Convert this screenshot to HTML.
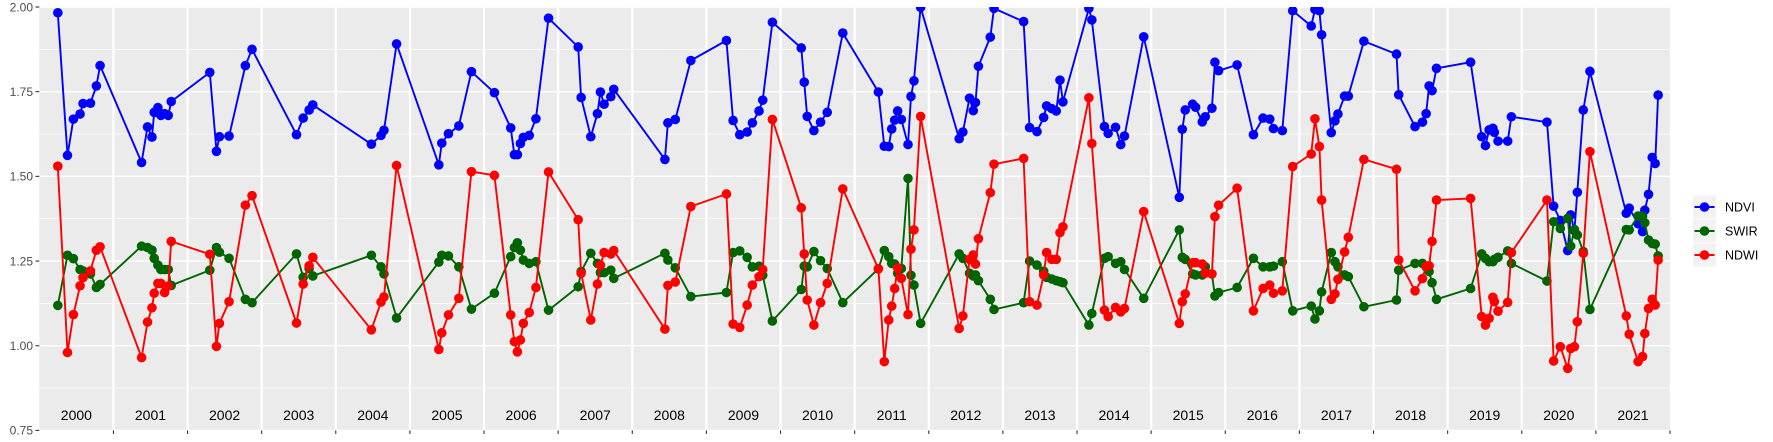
<!DOCTYPE html>
<html><head><meta charset="utf-8">
<style>
html,body{margin:0;padding:0;background:#fff;}
svg{display:block;font-family:"Liberation Sans",sans-serif;}
</style></head>
<body>
<svg id="chart" width="1773" height="442" viewBox="0 0 1773 442" xmlns="http://www.w3.org/2000/svg">
<rect x="39.3" y="7" width="1630.7" height="423.4" fill="#ebebeb"/>
<g id="grid"></g>
<g id="years"></g>
<g id="yaxis"></g>
<g id="series"></g>
<g id="legend"></g>
</svg>
<script>
const dates=[2000.25,2000.38,2000.46,2000.55,2000.59,2000.69,2000.77,2000.82,2001.38,2001.46,2001.52,2001.55,2001.60,2001.64,2001.69,2001.74,2001.78,2002.30,2002.39,2002.43,2002.56,2002.78,2002.87,2003.47,2003.56,2003.64,2003.69,2004.48,2004.61,2004.65,2004.82,2005.39,2005.43,2005.52,2005.66,2005.83,2006.14,2006.36,2006.41,2006.45,2006.49,2006.53,2006.61,2006.70,2006.87,2007.27,2007.31,2007.44,2007.53,2007.57,2007.62,2007.71,2007.75,2008.44,2008.48,2008.58,2008.79,2009.27,2009.36,2009.45,2009.55,2009.62,2009.71,2009.76,2009.89,2010.28,2010.32,2010.36,2010.45,2010.54,2010.63,2010.84,2011.32,2011.40,2011.46,2011.50,2011.54,2011.58,2011.63,2011.72,2011.76,2011.80,2011.89,2012.41,2012.46,2012.55,2012.60,2012.63,2012.67,2012.83,2012.88,2013.28,2013.36,2013.46,2013.55,2013.59,2013.66,2013.72,2013.77,2013.81,2014.16,2014.20,2014.37,2014.42,2014.52,2014.59,2014.64,2014.90,2015.38,2015.42,2015.46,2015.56,2015.60,2015.69,2015.73,2015.82,2015.86,2015.91,2016.16,2016.38,2016.51,2016.60,2016.65,2016.77,2016.91,2017.16,2017.21,2017.27,2017.30,2017.43,2017.48,2017.52,2017.61,2017.66,2017.87,2018.31,2018.34,2018.56,2018.66,2018.71,2018.75,2018.79,2018.85,2019.31,2019.46,2019.51,2019.56,2019.61,2019.63,2019.68,2019.81,2019.86,2020.34,2020.43,2020.52,2020.62,2020.66,2020.71,2020.75,2020.83,2020.92,2021.41,2021.45,2021.57,2021.63,2021.66,2021.71,2021.76,2021.80,2021.84];
const ndvi=[1.983,1.562,1.669,1.684,1.715,1.716,1.767,1.827,1.541,1.646,1.616,1.689,1.703,1.680,1.685,1.680,1.721,1.807,1.574,1.617,1.619,1.827,1.875,1.623,1.672,1.696,1.711,1.595,1.621,1.636,1.891,1.534,1.598,1.626,1.649,1.809,1.747,1.643,1.564,1.564,1.597,1.615,1.621,1.670,1.967,1.882,1.733,1.617,1.685,1.749,1.713,1.735,1.757,1.550,1.658,1.668,1.842,1.901,1.665,1.623,1.631,1.658,1.693,1.725,1.955,1.879,1.778,1.677,1.635,1.660,1.689,1.923,1.749,1.589,1.588,1.640,1.666,1.693,1.668,1.594,1.736,1.782,1.999,1.611,1.631,1.731,1.694,1.718,1.825,1.911,1.996,1.957,1.644,1.632,1.674,1.708,1.700,1.693,1.784,1.720,1.996,1.962,1.647,1.627,1.645,1.594,1.619,1.912,1.438,1.639,1.696,1.713,1.704,1.661,1.676,1.701,1.837,1.812,1.829,1.623,1.672,1.669,1.641,1.635,1.989,1.944,1.993,1.989,1.918,1.629,1.664,1.684,1.737,1.737,1.899,1.861,1.741,1.647,1.660,1.685,1.767,1.753,1.819,1.837,1.617,1.591,1.637,1.642,1.630,1.604,1.604,1.676,1.660,1.412,1.370,1.281,1.386,1.340,1.453,1.696,1.810,1.391,1.406,1.360,1.337,1.400,1.447,1.556,1.538,1.740];
const swir=[1.119,1.267,1.257,1.225,1.221,1.212,1.172,1.181,1.294,1.290,1.282,1.258,1.238,1.225,1.225,1.225,1.178,1.223,1.290,1.276,1.258,1.137,1.127,1.271,1.202,1.228,1.206,1.267,1.233,1.212,1.082,1.247,1.267,1.265,1.233,1.108,1.155,1.263,1.290,1.304,1.282,1.253,1.243,1.248,1.105,1.174,1.219,1.273,1.243,1.216,1.216,1.223,1.199,1.273,1.253,1.230,1.145,1.157,1.275,1.280,1.261,1.233,1.235,1.208,1.073,1.166,1.235,1.233,1.278,1.251,1.228,1.127,1.227,1.281,1.263,1.243,1.241,1.214,1.228,1.494,1.208,1.179,1.066,1.271,1.258,1.214,1.206,1.209,1.192,1.137,1.107,1.127,1.250,1.238,1.220,1.202,1.197,1.192,1.189,1.186,1.061,1.095,1.258,1.263,1.243,1.248,1.225,1.140,1.342,1.261,1.255,1.212,1.209,1.209,1.233,1.212,1.147,1.157,1.172,1.258,1.233,1.233,1.235,1.248,1.103,1.117,1.079,1.103,1.159,1.275,1.248,1.233,1.209,1.204,1.115,1.135,1.223,1.243,1.243,1.233,1.219,1.186,1.137,1.169,1.271,1.258,1.248,1.248,1.255,1.261,1.280,1.243,1.191,1.366,1.346,1.376,1.294,1.343,1.327,1.278,1.107,1.343,1.342,1.383,1.383,1.363,1.312,1.302,1.300,1.265];
const ndwi=[1.530,0.980,1.092,1.177,1.201,1.221,1.282,1.292,0.965,1.070,1.112,1.155,1.184,1.184,1.157,1.176,1.308,1.270,0.998,1.066,1.130,1.415,1.443,1.067,1.182,1.236,1.261,1.047,1.129,1.144,1.532,0.989,1.038,1.091,1.140,1.514,1.503,1.091,1.012,0.982,1.017,1.066,1.098,1.172,1.513,1.372,1.214,1.076,1.182,1.238,1.275,1.271,1.281,1.049,1.178,1.188,1.411,1.448,1.064,1.054,1.120,1.179,1.204,1.225,1.668,1.407,1.271,1.135,1.061,1.127,1.184,1.463,1.227,0.953,1.076,1.117,1.169,1.230,1.199,1.092,1.285,1.342,1.677,1.051,1.088,1.255,1.268,1.241,1.316,1.452,1.536,1.553,1.130,1.120,1.209,1.275,1.255,1.255,1.334,1.351,1.732,1.597,1.105,1.086,1.113,1.100,1.110,1.396,1.066,1.130,1.153,1.245,1.245,1.241,1.214,1.212,1.381,1.415,1.465,1.103,1.169,1.179,1.155,1.162,1.529,1.566,1.670,1.588,1.430,1.137,1.153,1.196,1.277,1.320,1.550,1.521,1.253,1.162,1.198,1.235,1.236,1.308,1.430,1.435,1.086,1.061,1.081,1.143,1.130,1.102,1.128,1.275,1.430,0.955,0.997,0.933,0.992,0.997,1.071,1.273,1.573,1.088,1.034,0.953,0.968,1.036,1.110,1.137,1.120,1.253];
const seriesNames=["NDVI","SWIR","NDWI"];
const yTicks=[0.75,1.00,1.25,1.50,1.75,2.00];
const yearLabels=[2000,2001,2002,2003,2004,2005,2006,2007,2008,2009,2010,2011,2012,2013,2014,2015,2016,2017,2018,2019,2020,2021];

const NS="http://www.w3.org/2000/svg";
const X0=39.3,X1=1670,Y0=430.4,Y1=7;
const xScale=d=>X0+(d-2000)/(22)*(X1-X0);
const yScale=v=>Y0+(v-0.75)/(2-0.75)*(Y1-Y0);
function mk(tag,attrs,parent){const e=document.createElementNS(NS,tag);for(const k in attrs)e.setAttribute(k,attrs[k]);parent.appendChild(e);return e;}
const grid=document.getElementById('grid');
for(let i=0;i<yTicks.length-1;i++){
  const mv=(yTicks[i]+yTicks[i+1])/2;
  const l=mk('line',{x1:X0,x2:X1,y1:yScale(mv),y2:yScale(mv),stroke:'#fff','stroke-width':0.7},grid);
  
  
}
yTicks.forEach(t=>{
  const l=mk('line',{x1:X0,x2:X1,y1:yScale(t),y2:yScale(t),stroke:'#fff','stroke-width':1.4},grid);
  
  
});
for(let y=2001;y<=2021;y++){
  const l=mk('line',{x1:xScale(y),x2:xScale(y),y1:Y1,y2:Y0,stroke:'#fff','stroke-width':2.2},grid);
  
  
}
const yrs=document.getElementById('years');
yearLabels.forEach(y=>{
  const t=mk('text',{x:xScale(y+0.5),y:420,'text-anchor':'middle','font-size':14,fill:'#000'},yrs);
  t.textContent=String(y);
  
  
});
for(let y=2001;y<=2022;y++){
  const tk=mk('line',{x1:xScale(y),x2:xScale(y),y1:Y0,y2:Y0+3.5,stroke:'#333','stroke-width':1.1},yrs);
  
  
}
const ya=document.getElementById('yaxis');
yTicks.forEach(t=>{
  const tx=mk('text',{x:33,y:yScale(t)+4.3,'text-anchor':'end','font-size':12,fill:'#4d4d4d'},ya);
  tx.textContent=t.toFixed(2);
  
  
  const tk=mk('line',{x1:35.5,x2:X0,y1:yScale(t),y2:yScale(t),stroke:'#333','stroke-width':1.1},ya);
  
  
});
const sg=document.getElementById('series');
const colors=["#0000ff","#006400","#ff0000"];
const allVals=[ndvi,swir,ndwi];
const clip=mk('clipPath',{id:'pc'},document.getElementById('chart'));
mk('rect',{x:X0,y:Y1,width:X1-X0,height:Y0-Y1},clip);
sg.setAttribute('clip-path','url(#pc)');
allVals.forEach((vals,si)=>{
  const g=mk('g',{},sg);
  
  
  const pts=dates.map((d,i)=>xScale(d).toFixed(1)+','+yScale(vals[i]).toFixed(1)).join(' ');
  const pl=mk('polyline',{points:pts,fill:'none',stroke:colors[si],'stroke-width':1.9,'stroke-linejoin':'round'},g);
  
  
  dates.forEach((d,i)=>{
    const c=mk('circle',{cx:xScale(d),cy:yScale(vals[i]),r:4.8,fill:colors[si]},g);
    
    
  });
});
const lg=document.getElementById('legend');
seriesNames.forEach((n,i)=>{
  const cy=207+i*24;
  const bg=mk('rect',{x:1693,y:cy-11.5,width:23,height:23,fill:'#f2f2f2'},lg);
  
  
  const ln=mk('line',{x1:1694.5,x2:1714.5,y1:cy,y2:cy,stroke:colors[i],'stroke-width':1.9},lg);
  
  
  const c=mk('circle',{cx:1704.5,cy:cy,r:4.8,fill:colors[i]},lg);
  
  
  const t=mk('text',{x:1725,y:cy+4.5,'font-size':12.5,fill:'#000'},lg);
  t.textContent=n;
  
  
});
</script>
</body></html>
